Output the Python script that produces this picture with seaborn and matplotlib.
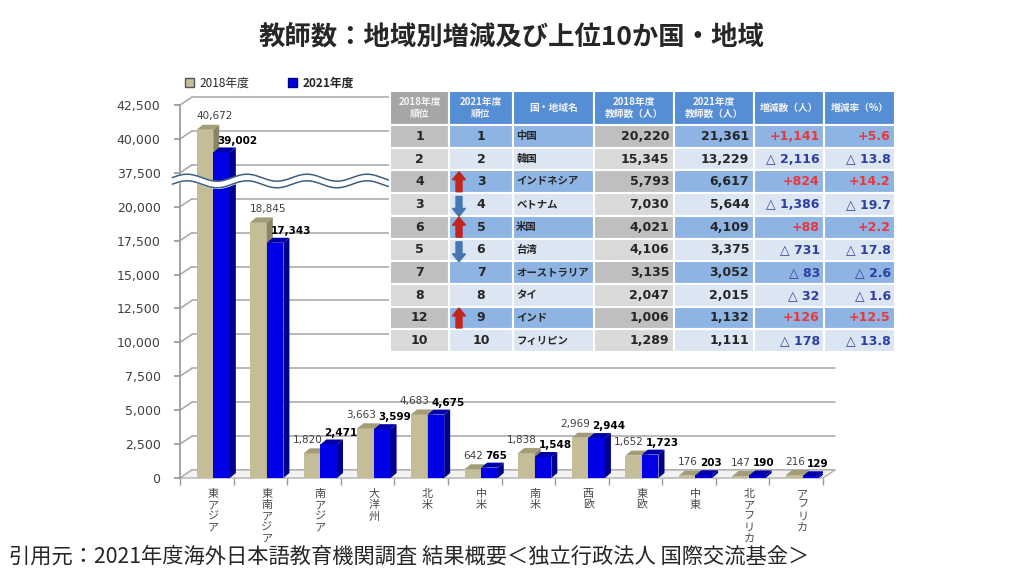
import numpy as np
import pandas as pd
import matplotlib
matplotlib.use('Agg')
import matplotlib.pyplot as plt
import matplotlib.transforms as mtransforms
from matplotlib.patches import Polygon, FancyArrow, Patch
from matplotlib.table import Table
import seaborn as sns

# --- data ---
regions = ['東アジア', '東南アジア', '南アジア', '大洋州', '北米', '中米',
           '南米', '西欧', '東欧', '中東', '北アフリカ', 'アフリカ']
teachers_2018 = [40672, 18845, 1820, 3663, 4683, 642, 1838, 2969, 1652, 176, 147, 216]
teachers_2021 = [39002, 17343, 2471, 3599, 4675, 765, 1548, 2944, 1723, 203, 190, 129]
y_tick_values = [0, 2500, 5000, 7500, 10000, 12500, 15000, 17500, 20000, 37500, 40000, 42500]

rank_2018 = [1, 2, 4, 3, 6, 5, 7, 8, 12, 10]
rank_2021 = [1, 2, 3, 4, 5, 6, 7, 8, 9, 10]
countries = ['中国', '韓国', 'インドネシア', 'ベトナム', '米国', '台湾',
             'オーストラリア', 'タイ', 'インド', 'フィリピン']
country_2018 = [20220, 15345, 5793, 7030, 4021, 4106, 3135, 2047, 1006, 1289]
country_2021 = [21361, 13229, 6617, 5644, 4109, 3375, 3052, 2015, 1132, 1111]
table_header = ['2018年度\n順位', '2021年度\n順位', '国・地域名', '2018年度\n教師数（人）',
                '2021年度\n教師数（人）', '増減数（人）', '増減率（%）']

TAN, TAN_TOP, TAN_SIDE = '#c4bd97', '#a39c78', '#8c8565'
BLUE, BLUE_TOP, BLUE_SIDE = '#0000e6', '#0000a8', '#00008a'
JP = ['Noto Sans CJK JP', 'DejaVu Sans']
NUM = ['DejaVu Sans', 'Noto Sans CJK JP']

sns.set_theme(style='white')
plt.rcParams['font.family'] = NUM


def axis_break(v):
    # values above the break are pulled down by 15,000
    return v if v < 30000 else v - 15000


W, H = 1024, 576
AX_L, AX_R, AX_B, AX_T = 180, 823, 478, 105
YMAX = 27500
XLIM = (-0.62, 11.38)
px_x = (AX_R - AX_L) / (XLIM[1] - XLIM[0])   # pixels per category
px_y = (AX_B - AX_T) / YMAX                  # pixels per value

fig = plt.figure(figsize=(W / 100, H / 100), dpi=100)
ax = fig.add_axes([AX_L / W, 1 - AX_B / H, (AX_R - AX_L) / W, (AX_B - AX_T) / H])

df = pd.DataFrame({
    'region': regions * 2,
    'year': ['2018年度'] * len(regions) + ['2021年度'] * len(regions),
    'teachers': [axis_break(v) for v in teachers_2018 + teachers_2021],
})
sns.barplot(data=df, x='region', y='teachers', hue='year', palette=[TAN, BLUE],
            saturation=1, width=0.62, ax=ax, legend=False, linewidth=0)
ax.set_xlim(*XLIM)
ax.set_ylim(0, YMAX)

# --- 3D look: back wall gridlines, floor ---
wd_x, wd_y = 12 / px_x, 8 / px_y
for t in y_tick_values:
    d = axis_break(t)
    ax.plot([XLIM[0] + wd_x, XLIM[1] + wd_x], [d + wd_y, d + wd_y], color='#a6a6a6',
            lw=1.1, zorder=0.5, clip_on=False)
    ax.plot([XLIM[0], XLIM[0] + wd_x], [d, d + wd_y], color='#a6a6a6', lw=1.1,
            zorder=0.5, clip_on=False)
floor = Polygon([(XLIM[0], 0), (XLIM[1], 0), (XLIM[1] + wd_x, wd_y), (XLIM[0] + wd_x, wd_y)],
                closed=True, facecolor='#f2f2f2', edgecolor='#b0b0b0', lw=1, zorder=0.6,
                clip_on=False)
ax.add_patch(floor)

bd_x, bd_y = 6 / px_x, 5 / px_y
tan_bars, blue_bars = ax.containers[0].patches, ax.containers[1].patches
for i, (pt, pb) in enumerate(zip(tan_bars, blue_bars)):
    for p, top_c, side_c, z in [(pt, TAN_TOP, TAN_SIDE, 2), (pb, BLUE_TOP, BLUE_SIDE, 3)]:
        p.set_zorder(z)
        x0, w, h = p.get_x(), p.get_width(), p.get_height()
        ax.add_patch(Polygon([(x0 + w, 0), (x0 + w + bd_x, bd_y), (x0 + w + bd_x, h + bd_y), (x0 + w, h)],
                             facecolor=side_c, edgecolor='none', zorder=z + 0.1))
        ax.add_patch(Polygon([(x0, h), (x0 + w, h), (x0 + w + bd_x, h + bd_y), (x0 + bd_x, h + bd_y)],
                             facecolor=top_c, edgecolor='none', zorder=z + 0.1))
    # labels sit either side of the pair's middle unless the 2018 bar stands clear above
    mid = pt.get_x() + pt.get_width()
    if pt.get_height() - pb.get_height() > 900:
        ax.annotate(f'{teachers_2018[i]:,}', (pt.get_x() + pt.get_width() / 2, pt.get_height()),
                    xytext=(7, 6), textcoords='offset points', ha='center', va='bottom',
                    fontsize=7.5, color='#404040', zorder=6)
    else:
        ax.annotate(f'{teachers_2018[i]:,}', (mid, pt.get_height()), xytext=(1.5, 6),
                    textcoords='offset points', ha='right', va='bottom', fontsize=7.5,
                    color='#404040', zorder=6)
    ax.annotate(f'{teachers_2021[i]:,}', (mid, pb.get_height()), xytext=(3, 5),
                textcoords='offset points', ha='left', va='bottom', fontsize=7.5,
                color='black', fontweight='bold', zorder=6)

# --- wavy axis break ---
blend = mtransforms.blended_transform_factory(ax.transAxes, ax.transData)
xs = np.linspace(-0.012, 1.04, 500)
wave = 3.5 / px_y * np.cos(2 * np.pi * ((xs * (AX_R - AX_L) + AX_L) - 187) / 60)
yc = (AX_B - 181) / px_y
gap = 3.3 / px_y
ax.fill_between(xs, yc - gap + wave, yc + gap + wave, color='white', transform=blend,
                zorder=5, clip_on=False)
for s in (-gap, gap):
    ax.plot(xs, yc + s + wave, color='#3e5f80', lw=1.1, transform=blend, zorder=5.1, clip_on=False)

# --- axes cosmetics ---
ax.set_yticks([axis_break(t) for t in y_tick_values])
ax.set_yticklabels([f'{t:,}' for t in y_tick_values], fontsize=9, color='#404040')
ax.set_xticks(range(len(regions)))
ax.set_xticklabels(['\n'.join(r) for r in regions], fontsize=8, color='#4a4a4a',
                   family=JP, linespacing=1.15, va='top')
ax.set_xticks(np.arange(len(regions) + 1) + XLIM[0], minor=True)
shift = mtransforms.ScaledTranslation(-6 / 100, 0, fig.dpi_scale_trans)
for lab in ax.get_xticklabels():
    lab.set_transform(lab.get_transform() + shift)
ax.tick_params(axis='x', which='major', length=0, pad=8)
ax.tick_params(axis='x', which='minor', length=5, color='#999999', bottom=True)
ax.tick_params(axis='y', length=4, color='#999999', left=True, pad=10)
for s in ['top', 'right', 'bottom']:
    ax.spines[s].set_visible(False)
ax.spines['left'].set_color('#999999')
ax.set_xlabel('')
ax.set_ylabel('')

handles = [Patch(facecolor=TAN, edgecolor='#555555'), Patch(facecolor=BLUE, edgecolor='#000080')]
leg = fig.legend(handles, ['2018年度', '2021年度'], loc='center left',
                 bbox_to_anchor=(174 / W, 1 - 83 / H), ncol=2, frameon=False,
                 handlelength=0.8, handleheight=0.8, handletextpad=0.5, columnspacing=3.2,
                 prop={'family': JP, 'size': 8.5})
leg.get_texts()[1].set_fontweight('bold')

# --- top 10 table ---
T_L, T_R, T_T, T_B = 390, 895, 91, 352
ax_t = fig.add_axes([T_L / W, 1 - T_B / H, (T_R - T_L) / W, (T_B - T_T) / H])
ax_t.set_xlim(0, 1)
ax_t.set_ylim(0, 1)
ax_t.axis('off')
col_w = [59, 64, 81, 80, 80, 70, 71]
head_h, row_h = 34, (T_B - T_T - 34) / len(countries)
tw, th = T_R - T_L, T_B - T_T
tbl = Table(ax_t, bbox=[0, 0, 1, 1])
tbl.auto_set_font_size(False)
for c, (lab, w) in enumerate(zip(table_header, col_w)):
    cell = tbl.add_cell(0, c, w / tw, head_h / th, text=lab, loc='center',
                        facecolor='#a6a6a6' if c == 0 else '#558ed5', edgecolor='white')
    cell.set_linewidth(1.5)
    cell.get_text().set(color='#f4f4f4', fontsize=7, fontweight='bold', family=JP, linespacing=1.25)

for i in range(len(countries)):
    diff = country_2021[i] - country_2018[i]
    rate = diff / country_2018[i] * 100
    if diff >= 0:
        d_txt, r_txt, d_col = f'+{diff:,}', f'+{rate:.1f}', '#e8383d'
    else:
        d_txt, r_txt, d_col = f'△ {-diff:,}', f'△ {-rate:.1f}', '#2f3f9f'
    vals = [str(rank_2018[i]), str(rank_2021[i]), countries[i], f'{country_2018[i]:,}',
            f'{country_2021[i]:,}', d_txt, r_txt]
    locs = ['center', 'center', 'left', 'right', 'right', 'right', 'right']
    dark = i % 2 == 0
    gray = '#bfbfbf' if dark else '#d9d9d9'
    blue = '#8eb4e3' if dark else '#dce6f2'
    for c, (v, loc, w) in enumerate(zip(vals, locs, col_w)):
        fc = gray if c in (0, 3) else blue
        cell = tbl.add_cell(i + 1, c, w / tw, row_h / th, text=v, loc=loc,
                            facecolor=fc, edgecolor='white')
        cell.set_linewidth(1.5)
        cell.PAD = 0.06
        color = d_col if c >= 5 else '#262626'
        if c == 2:
            cell.PAD = 0.04
            cell.get_text().set(color=color, fontsize=7.5, fontweight='bold', family=JP)
        else:
            cell.get_text().set(color=color, fontsize=9, fontweight='bold', family=NUM)
ax_t.add_table(tbl)

# rank change arrows
ax_x = (459 - T_L) / tw
for i in range(len(countries)):
    yc_row = 1 - (head_h + row_h * (i + 0.5)) / th
    L = 20 / th
    if rank_2018[i] > rank_2021[i]:
        ax_t.add_patch(FancyArrow(ax_x, yc_row - L / 2, 0, L, width=6 / tw, head_width=13 / tw,
                                  head_length=8 / th, length_includes_head=True,
                                  color='#c0261f', zorder=10))
    elif rank_2018[i] < rank_2021[i]:
        ax_t.add_patch(FancyArrow(ax_x, yc_row + L / 2 - 2 / th, 0, -L, width=6 / tw,
                                  head_width=13 / tw, head_length=8 / th,
                                  length_includes_head=True, color='#4776b4', zorder=10))

# --- title and source ---
fig.text(0.5, 1 - 38 / H, '教師数：地域別増減及び上位10か国・地域', ha='center', va='center',
         fontsize=19, fontweight='bold', family=JP)
fig.text(9 / W, 1 - 557 / H, '引用元：2021年度海外日本語教育機関調査 結果概要＜独立行政法人 国際交流基金＞',
         ha='left', va='center', fontsize=15.3, family=JP)

fig.savefig('out.png', dpi=100)
